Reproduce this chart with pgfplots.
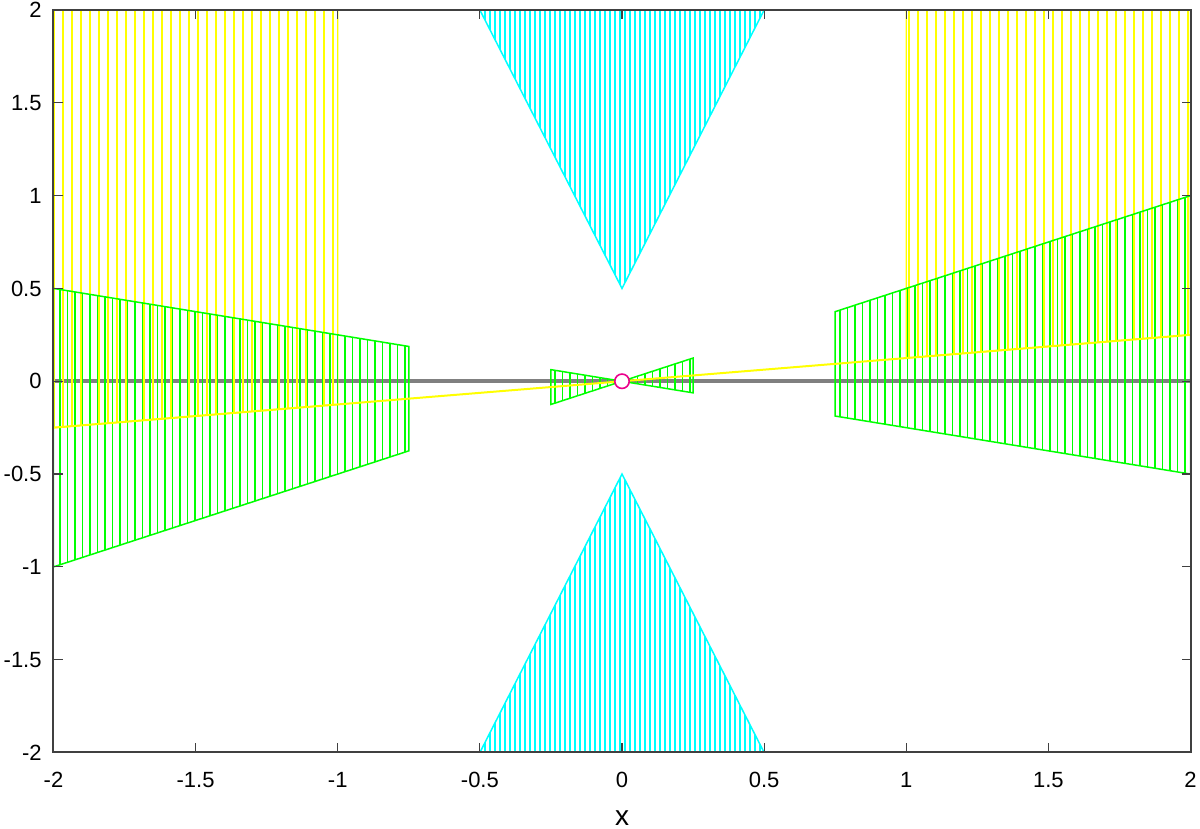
\documentclass[border=0pt]{standalone}
\usepackage{pgfplots}
\pgfplotsset{compat=1.18}
\usepackage{fontspec}
\setmainfont{Liberation Sans}
\usetikzlibrary{patterns.meta}
\definecolor{axgray}{HTML}{404040}
\definecolor{zerogray}{HTML}{808080}
\definecolor{hyellow}{HTML}{FFFF00}
\definecolor{hgreen}{HTML}{00FF00}
\definecolor{hcyan}{HTML}{00FFFF}
\begin{document}
\begin{tikzpicture}
\useasboundingbox (-26.75pt,-38.25pt) rectangle (573.25pt,376.25pt);
\begin{axis}[
  scale only axis, width=568.5pt, height=371.25pt,
  xmin=-2, xmax=2, ymin=-2, ymax=2,
  xtick={-2,-1.5,...,2}, ytick={-2,-1.5,...,2},
  tick align=inside, major tick length=4.5pt,
  axis line style={axgray, line width=1pt},
  tick style={axgray, line width=0.6pt},
  /pgf/number format/assume math mode=true,
  ticklabel style={font=\fontsize{11}{13}\selectfont, inner sep=0pt},
  xticklabel style={anchor=center, yshift=-13.75pt},
  yticklabel style={anchor=east, xshift=-5.75pt},
  xlabel={x},
  xlabel style={font=\fontsize{14}{16}\selectfont, at={(axis description cs:0.5,0)}, anchor=center, yshift=-32.75pt, inner sep=0pt},
  axis on top,
]
% x axis line
\addplot[zerogray, line width=2pt] coordinates {(-2,0) (2,0)};
% yellow regions
\addplot[draw=hyellow, line width=0.65pt, pattern={Lines[angle=90,distance=4.5pt,line width=0.65pt]}, pattern color=hyellow]
  coordinates {(-2,-0.25) (-2,2) (-1,2) (-1,-0.125)} -- cycle;
\addplot[draw=hyellow, line width=0.65pt, pattern={Lines[angle=90,distance=4.5pt,line width=0.65pt]}, pattern color=hyellow]
  coordinates {(1,0.125) (1,2) (2,2) (2,0.25)} -- cycle;
% green regions
\addplot[draw=hgreen, line width=0.75pt, pattern={Lines[angle=90,distance=3.75pt,line width=0.65pt]}, pattern color=hgreen]
  coordinates {(-2,-1) (-0.75,-0.375) (-0.75,0.1875) (-2,0.5)} -- cycle;
\addplot[draw=hgreen, line width=0.75pt, pattern={Lines[angle=90,distance=3.75pt,line width=0.65pt]}, pattern color=hgreen]
  coordinates {(0.75,0.375) (2,1) (2,-0.5) (0.75,-0.1875)} -- cycle;
\addplot[draw=hgreen, line width=0.75pt, pattern={Lines[angle=90,distance=3.75pt,line width=0.65pt]}, pattern color=hgreen]
  coordinates {(-0.25,-0.125) (0,0) (-0.25,0.0625)} -- cycle;
\addplot[draw=hgreen, line width=0.75pt, pattern={Lines[angle=90,distance=3.75pt,line width=0.65pt]}, pattern color=hgreen]
  coordinates {(0.25,0.125) (0,0) (0.25,-0.0625)} -- cycle;
% cyan regions
\addplot[draw=hcyan, line width=0.75pt, pattern={Lines[angle=90,distance=2.5pt,line width=0.6pt]}, pattern color=hcyan]
  coordinates {(-0.5,2) (0,0.5) (0.5,2)} -- cycle;
\addplot[draw=hcyan, line width=0.75pt, pattern={Lines[angle=90,distance=2.5pt,line width=0.6pt]}, pattern color=hcyan]
  coordinates {(-0.5,-2) (0,-0.5) (0.5,-2)} -- cycle;
% yellow line
\addplot[hyellow, line width=1pt] coordinates {(-2,-0.25) (2,0.25)};
% magenta circle
\addplot[only marks, mark=*, mark size=3.6pt, mark options={draw=magenta, fill=white, line width=0.8pt}] coordinates {(0,0)};
\end{axis}
\end{tikzpicture}
\end{document}
